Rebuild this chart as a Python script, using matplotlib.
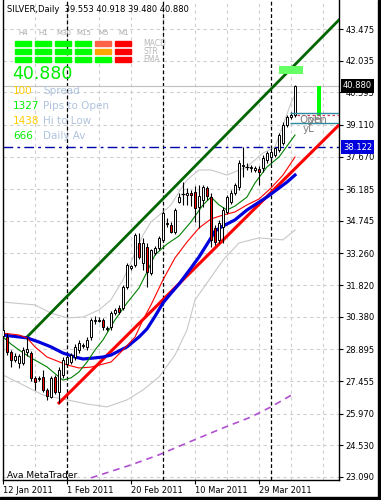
import matplotlib
matplotlib.use("Agg")
import matplotlib.pyplot as plt
from matplotlib.patches import Rectangle

# daily OHLC, 12 Jan 2011 .. today (bar index = position on chart)
opens = [29.51, 29.47, 28.78, 28.42, 28.28, 28.28, 28.78, 28.73, 27.60, 27.55,
         27.64, 27.05, 26.73, 27.64, 26.96, 27.73, 28.23, 28.32, 28.55, 28.87,
         29.05, 29.01, 29.47, 30.19, 30.24, 30.24, 29.83, 29.92, 30.55, 30.78,
         30.78, 31.74, 32.60, 32.74, 33.74, 32.83, 33.56, 32.37, 33.28, 33.51,
         33.88, 34.60, 34.56, 34.24, 35.60, 35.97, 35.92, 36.01, 36.06, 35.38,
         35.70, 36.24, 35.83, 34.42, 33.88, 34.47, 35.15, 35.60, 36.01, 36.29,
         37.24, 37.20, 37.20, 37.06, 37.10, 37.15, 37.52, 37.65, 37.74, 37.97,
         38.29, 39.11, 39.47, 39.553]
highs = [29.96, 29.65, 28.87, 28.73, 28.69, 29.01, 29.47, 28.82, 27.69, 27.69,
         27.96, 27.14, 27.69, 27.73, 28.09, 28.55, 28.64, 28.73, 29.14, 29.33,
         29.19, 29.47, 30.33, 30.42, 30.37, 30.33, 29.96, 30.65, 30.78, 30.92,
         31.83, 32.83, 32.74, 34.19, 34.19, 33.97, 33.74, 33.47, 33.60, 34.06,
         35.20, 34.88, 34.69, 35.33, 36.01, 36.51, 36.24, 36.15, 36.33, 36.38,
         36.38, 36.33, 36.01, 34.56, 34.79, 35.38, 35.92, 36.15, 36.47, 37.52,
         38.12, 37.38, 37.29, 37.24, 37.24, 37.74, 37.92, 38.06, 38.11, 38.74,
         39.25, 39.56, 39.70, 40.918]
lows = [29.42, 28.64, 28.09, 28.32, 28.05, 28.19, 28.60, 27.46, 27.05, 27.46,
        26.96, 26.60, 26.69, 26.87, 26.46, 27.60, 28.14, 28.23, 28.42, 28.73,
        28.96, 28.87, 29.33, 30.05, 30.14, 29.78, 29.73, 29.78, 30.46, 30.51,
        30.69, 31.65, 32.51, 32.65, 33.01, 32.51, 31.74, 32.28, 33.19, 33.42,
        33.78, 34.47, 34.19, 34.15, 35.56, 35.47, 35.47, 35.42, 34.70, 34.42,
        35.38, 35.70, 33.56, 33.65, 33.74, 33.74, 35.06, 35.51, 35.92, 36.15,
        36.74, 37.06, 36.97, 36.97, 36.38, 36.97, 37.38, 37.38, 37.65, 37.88,
        38.20, 39.02, 39.38, 39.480]
closes = [29.78, 28.78, 28.42, 28.60, 28.60, 28.87, 28.92, 27.60, 27.41, 27.60,
          27.05, 26.78, 27.60, 26.96, 27.96, 28.42, 28.55, 28.64, 29.01, 29.19,
          29.10, 29.33, 30.24, 30.24, 30.19, 29.92, 29.87, 30.55, 30.69, 30.60,
          31.74, 32.74, 32.69, 34.10, 33.10, 33.74, 32.42, 33.42, 33.51, 33.97,
          35.10, 34.65, 34.24, 35.24, 35.83, 36.01, 36.01, 35.92, 35.33, 35.88,
          36.29, 35.88, 33.88, 33.78, 34.65, 35.24, 35.83, 36.01, 36.38, 37.38,
          37.29, 37.24, 37.15, 37.15, 36.97, 37.61, 37.83, 37.88, 38.06, 38.65,
          39.11, 39.47, 39.56, 40.880]

# indicator lines (bar index, price)
slow_ma_bars = [0, 6, 9, 12, 15, 18, 20, 23, 25, 27, 31, 34, 36, 38, 40, 42, 44, 47, 49, 52, 53,
                55, 58, 61, 66, 71, 73]
slow_ma = [29.55, 29.42, 29.23, 29.01, 28.73, 28.55, 28.46, 28.51, 28.55, 28.64, 29.01, 29.46,
           29.83, 30.40, 31.01, 31.45, 31.87, 32.60, 33.10, 33.97, 34.28, 34.51, 34.79, 35.24,
           35.83, 36.51, 36.83]
mid_ma_bars = [0, 4, 6, 8, 11, 16, 19, 22, 27, 30, 33, 35, 37, 40, 43, 46, 49, 52, 55, 58, 61, 64, 67, 70, 73]
mid_ma = [29.64, 29.55, 29.42, 29.01, 28.55, 28.19, 28.05, 28.09, 28.32, 28.87, 29.46, 30.24, 30.92,
          32.06, 33.06, 33.78, 34.42, 34.83, 35.01, 35.15, 35.47, 35.74, 36.24, 36.83, 37.65]
fast_ma_bars = [0, 2, 4, 7, 11, 14, 15, 17, 19, 21, 23, 25, 28, 31, 34, 36, 38, 41, 44, 47, 50, 52,
                54, 56, 58, 61, 63, 66, 69, 71, 73]
fast_ma = [29.46, 29.14, 28.87, 28.51, 28.10, 27.64, 27.50, 27.60, 27.87, 28.32, 28.87, 29.33, 30.24,
           31.01, 31.69, 32.42, 33.20, 33.69, 34.06, 34.70, 35.47, 35.83, 35.47, 35.24, 35.42, 35.83,
           36.47, 37.20, 37.65, 38.15, 38.65]
bb_up_bars = [0, 8, 12, 16, 20, 24, 27, 30, 32, 35, 37, 40, 42, 44, 46, 49, 52, 56, 61, 65, 68, 70, 72, 73]
bb_up = [31.05, 30.92, 30.55, 30.33, 30.37, 30.69, 31.15, 32.06, 32.87, 34.10, 34.70, 35.15, 35.47,
         36.06, 36.61, 37.06, 37.06, 36.83, 37.20, 37.83, 38.11, 39.11, 40.11, 40.47]
bb_lo_bars = [0, 5, 10, 16, 21, 26, 31, 35, 39, 43, 46, 48, 51, 55, 59, 64, 70, 73]
bb_lo = [27.73, 27.28, 26.82, 26.60, 26.41, 26.28, 26.60, 27.05, 27.64, 28.64, 29.78, 31.15, 31.92,
         32.96, 33.74, 33.97, 33.88, 34.33]
sar_bars = [22, 32, 39, 46, 55, 62, 67, 73]
sar = [23.05, 23.64, 24.10, 24.64, 25.32, 25.82, 26.28, 26.91]

channel_bars = [6, 84]
channel = [29.46, 43.89]
trend_bars = [14, 84]
trend = [26.46, 39.11]

price_ticks = [43.475, 42.035, 40.595, 39.110, 37.670, 36.185, 34.745, 33.260,
               31.820, 30.380, 28.895, 27.455, 25.970, 24.530, 23.090]
date_bars = [0, 16, 32, 48, 64]
date_labels = ["12 Jan 2011", "1 Feb 2011", "20 Feb 2011", "10 Mar 2011", "29 Mar 2011"]
month_breaks = [16, 40, 67]

last_price = 40.880
level = 38.122
y_high, y_low, y_open = 39.65, 39.20, 39.553

tf_names = ["H4", "H1", "M30", "M15", "M5", "M1"]
signal_rows = ["MACD", "STR", "EMA"]
signal_colors = [["#00FF00"] * 4 + ["#FF6347", "#FF0000"],
                 ["#00FF00"] * 4 + ["#FFA500", "#FF0000"],
                 ["#00FF00"] * 5 + ["#FF0000"]]
info_vals = ["100", "1327", "1438", "666"]
info_names = ["Spread", "Pips to Open", "Hi to Low", "Daily Av"]
info_colors = ["#FFCC00", "#00EE00", "#FFCC00", "#00EE00"]

W, H = 381, 500


def px(x, y):
    return x / W, 1 - y / H


fig = plt.figure(figsize=(W / 100, H / 100), dpi=100)
ax = fig.add_axes([3 / W, 20 / H, 336 / W, 480 / H])
ax.set_xlim(0, 84)
ax.set_ylim(22.953, 44.795)

grid = dict(color="#cfcfcf", lw=0.8, ls=(0, (3, 3)), zorder=0)
for p in price_ticks:
    ax.axhline(p, **grid)
for b in range(8, 84, 8):
    ax.axvline(b, **grid)
for b in month_breaks:
    ax.axvline(b, color="black", lw=0.9, ls=(0, (3, 2)), zorder=1)

ax.axhline(last_price, color="#c0c0c0", lw=0.8, zorder=1)
ax.axhline(level, color="#0000aa", lw=1, ls=(0, (7, 3, 2, 3)), zorder=1)

# bands and averages
ax.plot(bb_up_bars, bb_up, color="#c8c8c8", lw=0.8, zorder=2)
ax.plot(bb_lo_bars, bb_lo, color="#c8c8c8", lw=0.8, zorder=2)
ax.plot(sar_bars, sar, color="#b050d0", lw=1.2, ls=(0, (4, 3)), zorder=2)
ax.plot(channel_bars, channel, color="#006400", lw=2, zorder=3)
ax.plot(trend_bars, trend, color="#ff0000", lw=2.2, zorder=3)
ax.plot(slow_ma_bars, slow_ma, color="#0000dd", lw=2.3, zorder=3)
ax.plot(mid_ma_bars, mid_ma, color="#ff0000", lw=0.8, zorder=3)
ax.plot(fast_ma_bars, fast_ma, color="#008000", lw=0.8, zorder=3)

# candles
for i, (o, h, l, c) in enumerate(zip(opens, highs, lows, closes)):
    ax.vlines(i, l, h, color="black", lw=0.8, zorder=4)
    if abs(c - o) < 0.04:
        ax.hlines(o, i - 0.4, i + 0.4, color="black", lw=0.9, zorder=5)
    else:
        face = "white" if c > o else "#ff0000"
        ax.add_patch(Rectangle((i - 0.3, min(o, c)), 0.6, abs(c - o), facecolor=face,
                               edgecolor="black", lw=0.7, zorder=5))

# levels panel at the right end
ax.add_patch(Rectangle((69, 41.43), 6, 0.36, facecolor="#66ff66", edgecolor="none", zorder=6))
ax.add_patch(Rectangle((78.6, y_open - 0.03), 1.0, last_price - y_open + 0.03, facecolor="#00ff00",
                       edgecolor="none", zorder=6))
ax.hlines([y_high, y_low], 71.8, 84, color="#2a8c9e", lw=1, zorder=6)
ax.hlines(y_open, 73.5, 84, color="#cc3366", lw=0.9, ls=(0, (2, 2)), zorder=6)
ax.text(74.2, 39.22, "Open", color="#808080", fontsize=7.5, zorder=7)
ax.text(76.5, 39.22, "yH", color="#808080", fontsize=7.5, zorder=7)
ax.text(74.8, 38.8, "yL", color="#808080", fontsize=7.5, zorder=7)

ax.spines["top"].set_visible(False)
for s in ["left", "right", "bottom"]:
    ax.spines[s].set_linewidth(1)
ax.yaxis.tick_right()
ax.set_yticks(price_ticks)
ax.set_yticklabels([f"{p:.3f}" for p in price_ticks])
ax.set_xticks(date_bars)
ax.set_xticklabels(date_labels)
for t in ax.get_xticklabels():
    t.set_ha("left")
ax.tick_params(axis="both", labelsize=6, length=3, width=0.8, pad=1.5, colors="black")

# price labels on the axis
fig.text(*px(343, 86), f"{last_price:.3f}", color="white", fontsize=6, va="center",
         bbox=dict(facecolor="black", edgecolor="none", pad=1.6), zorder=10)
fig.text(*px(343, 147), f"{level:.3f}", color="white", fontsize=6, va="center",
         bbox=dict(facecolor="#0000dd", edgecolor="none", pad=1.6), zorder=10)

# header and info panel
fig.text(*px(7, 10), "SILVER,Daily  39.553 40.918 39.480 40.880", fontsize=6, va="center")
for k, name in enumerate(tf_names):
    fig.text(*px(23 + 20.2 * k, 33), name, color="#a8a8a8", fontsize=5, ha="center", va="center")
for r, row in enumerate(signal_colors):
    for k, col in enumerate(row):
        fig.add_artist(Rectangle(px(15 + 20 * k, 46 + 8 * r), 16 / W, 5 / H, color=col,
                                 transform=fig.transFigure))
    fig.text(*px(143, 43.5 + 8 * r), signal_rows[r], color="#b8b8b8", fontsize=5.5, va="center")
fig.text(*px(12, 74), f"{last_price:.3f}", color="#00ee00", fontsize=12.5, va="center")
for r in range(4):
    fig.text(*px(13, 91 + 15 * r), info_vals[r], color=info_colors[r], fontsize=7.5, va="center")
    fig.text(*px(43, 91 + 15 * r), info_names[r], color="#b0c4de", fontsize=7.5, va="center")
fig.text(*px(7, 475), "Ava MetaTrader", fontsize=6.5, va="center")

# window frame
fig.add_artist(Rectangle((378 / W, 0), 3 / W, 1, color="black", transform=fig.transFigure))
fig.add_artist(Rectangle((0, 0), 1, 3 / H, color="black", transform=fig.transFigure))

fig.savefig("out.png", dpi=100)
